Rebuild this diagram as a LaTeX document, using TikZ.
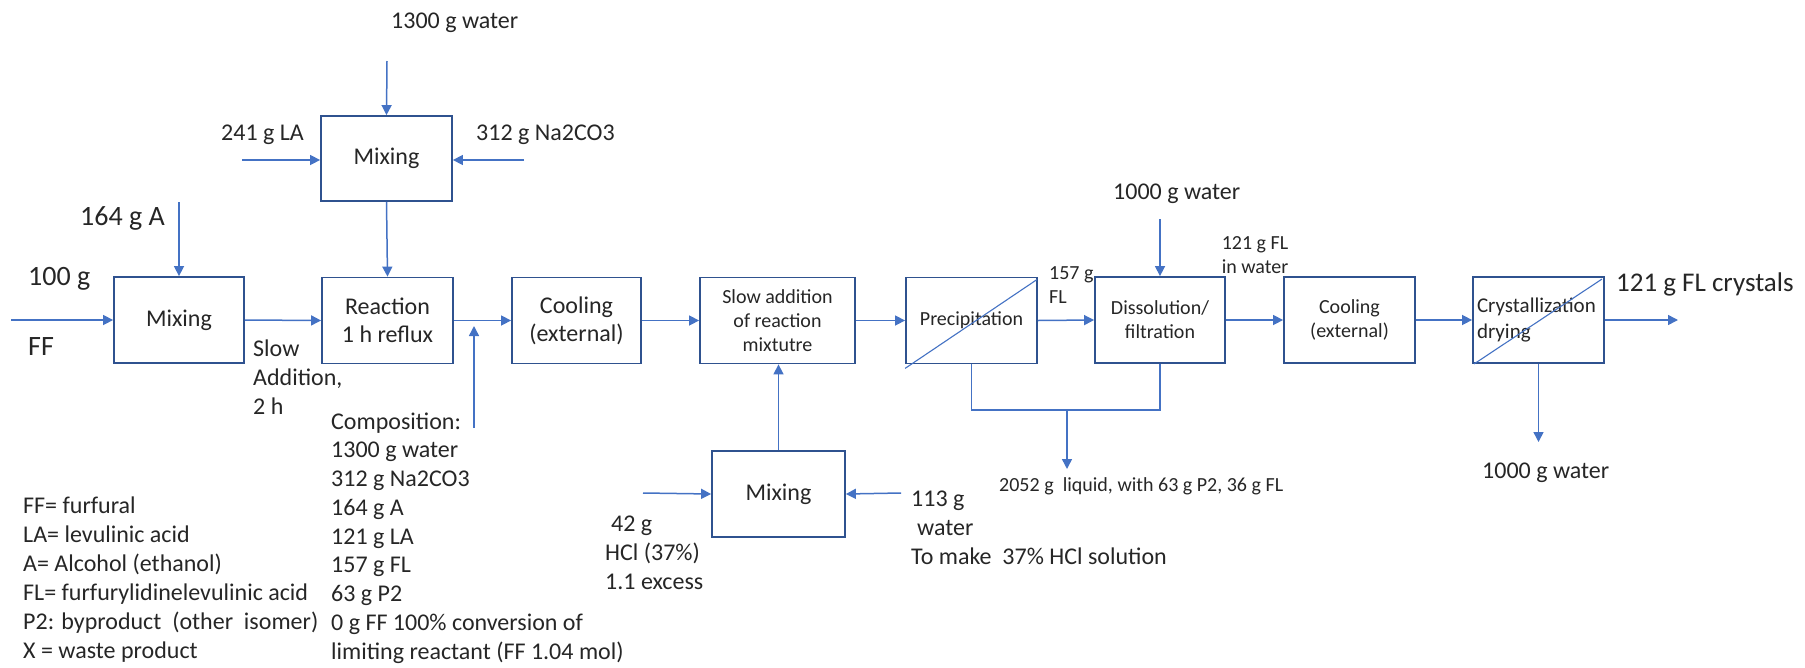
\documentclass[tikz,border=0pt]{standalone}
\usepackage{fontspec}
\setmainfont{Carlito}
\usetikzlibrary{arrows.meta}
\definecolor{flow}{HTML}{4472C4}
\definecolor{edge}{HTML}{2F528F}
\definecolor{ink}{HTML}{262626}
\tikzset{
  lbl/.style={font=\fontsize{24}{29}\selectfont, text=ink, inner sep=0pt, align=left},
  biglbl/.style={font=\fontsize{28}{34}\selectfont, text=ink, inner sep=0pt, align=left},
  smalllbl/.style={font=\fontsize{20}{24}\selectfont, text=ink, inner sep=0pt, align=left},
  unit/.style={draw=edge, line width=1.8pt, fill=white, minimum height=86pt,
    text=ink, align=center, inner sep=2pt, font=\fontsize{24}{28}\selectfont},
  unitsmall/.style={unit, font=\fontsize{20}{24}\selectfont},
  flowline/.style={draw=flow, line width=1.5pt, -{Triangle[length=10pt,width=10pt]}},
  plainline/.style={draw=flow, line width=1.5pt},
  slash/.style={draw=flow, line width=1.1pt},
}
\begin{document}
\begin{tikzpicture}[x=1pt, y=-1pt]
\useasboundingbox (0,0) rectangle (1805,667);

% process units
\node[unit, minimum width=130pt] (mixA) at (179,320) {Mixing};
\node[unit, minimum width=131pt, minimum height=85pt] (mixB) at (386.5,158.5) {Mixing};
\node[unit, minimum width=131pt] (react) at (387.5,320.5) {Reaction\\1 h reflux};
\node[unit, minimum width=129pt] (cool1) at (576.5,320.5) {Cooling\\(external)};
\node[unitsmall, minimum width=155pt] (slow) at (777.5,320.5) {Slow addition\\of reaction\\mixtutre};
\node[unitsmall, minimum width=131pt] (precip) at (971.5,320.5) {Precipitation};
\node[unitsmall, minimum width=130pt] (dissol) at (1160,320) {Dissolution/\\filtration};
\node[unitsmall, minimum width=131pt] (cool2) at (1349.5,320) {Cooling\\(external)};
\node[unit, minimum width=131pt, text width=123pt, align=left,
      font=\fontsize{21}{26}\selectfont] (cryst) at (1538.5,320) {Crystallization\\drying};
\node[unit, minimum width=133pt] (mixC) at (778.5,494) {Mixing};

% separator slashes
\draw[slash] ([yshift=-4pt]precip.south west) -- ([xshift=-1pt,yshift=-3pt]precip.north east);
\draw[slash] ([xshift=2pt]cryst.south west) -- ([xshift=-3pt,yshift=-3pt]cryst.north east);

% free stream ends
\coordinate (ffIn) at (11,320);
\coordinate (aIn) at (179,202);
\coordinate (wIn) at (387,61);
\coordinate (laIn) at (242,160);
\coordinate (naIn) at (524,160);
\coordinate (compIn) at (474,428);
\coordinate (compTip) at (474,326);
\coordinate (hclIn) at (643,493);
\coordinate (h2oIn) at (901,493);
\coordinate (wIn2) at (1160,219);
\coordinate (coll) at (1067,410);
\coordinate (liqOut) at (1067,469);
\coordinate (prodOut) at (1678,319);
\coordinate (drain) at (1540,442);

% streams
\draw[flowline] (ffIn) -- (mixA.west);
\draw[flowline] (aIn) -- (mixA.north);
\draw[flowline] (mixA.east) -- (react.west);
\draw[flowline] (wIn) -- (mixB.north);
\draw[flowline] (laIn) -- (laIn -| mixB.west);
\draw[flowline] (naIn) -- (naIn -| mixB.east);
\draw[flowline] (mixB.south) -- (react.north);
\draw[flowline] (react.east) -- (cool1.west);
\draw[flowline] (compIn) -- (compTip);
\draw[flowline] (cool1.east) -- (slow.west);
\draw[flowline] (slow.east) -- (precip.west);
\draw[flowline] (precip.east) -- (dissol.west);
\draw[flowline] (dissol.east) -- (cool2.west);
\draw[flowline] (cool2.east) -- (cryst.west);
\draw[flowline] (cryst.east) -- (cryst.east -| prodOut);
\draw[flowline] (cryst.south) -- (cryst.south |- drain);
\draw[flowline] (wIn2) -- (dissol.north);
\draw[flowline] (mixC.north) -- (mixC.north |- slow.south);
\draw[flowline] (hclIn) -- (mixC.west);
\draw[flowline] (h2oIn) -- (mixC.east);
\draw[plainline] (precip.south) |- (coll) -| (dissol.south);
\draw[flowline] (coll) -- (liqOut);

% stream labels
\node[lbl, anchor=west] (tWater) at (391,23) {1300 g water};
\node[lbl, anchor=west] (tLA) at (221,135) {241 g LA};
\node[lbl, anchor=west] (tNa) at (476,135) {312 g Na2CO3};
\node[biglbl, anchor=west] (tA) at (80,218) {164 g A};
\node[biglbl, anchor=west] (tFF1) at (28,279) {100 g};
\node[biglbl, anchor=west] (tFF2) at (28,347) {FF};
\node[lbl, anchor=west] (tSlow) at (253,377) {Slow\\Addition,\\2 h};
\node[lbl, anchor=west, font=\fontsize{24}{28.75}\selectfont] (tComp) at (331,538)
  {Composition:\\1300 g water\\312 g Na2CO3\\164 g A\\121 g LA\\157 g FL\\63 g P2\\
   0 g FF 100\% conversion of\\limiting reactant (FF 1.04 mol)};
\node[lbl, anchor=west] (tLegend) at (23,580)
  {FF= furfural\\LA= levulinic acid\\A= Alcohol (ethanol)\\FL= furfurylidinelevulinic acid\\
   P2: byproduct\ \ (other\ \ isomer)\\X = waste product};
\node[lbl, anchor=west] (tHCl) at (605,553) {\hspace*{6pt}42 g\\HCl (37\%)\\1.1 excess};
\node[lbl, anchor=west] (tH2O) at (911,528) {113 g\\\hspace*{6pt}water\\To make\ \ 37\% HCl solution};
\node[smalllbl, anchor=west] (tLiq) at (999,486) {2052 g\ \ liquid, with 63 g P2, 36 g FL};
\node[smalllbl, anchor=west] (t157) at (1049,285) {157 g\\FL};
\node[smalllbl, align=center] (t121) at (1255,255) {121 g FL\\in water};
\node[lbl, anchor=west] (tWater2) at (1113,194) {1000 g water};
\node[biglbl, anchor=west, font=\fontsize{27}{32}\selectfont] (tProd) at (1616,284) {121 g FL crystals};
\node[lbl, anchor=west] (tDrain) at (1482,473) {1000 g water};
\end{tikzpicture}
\end{document}
